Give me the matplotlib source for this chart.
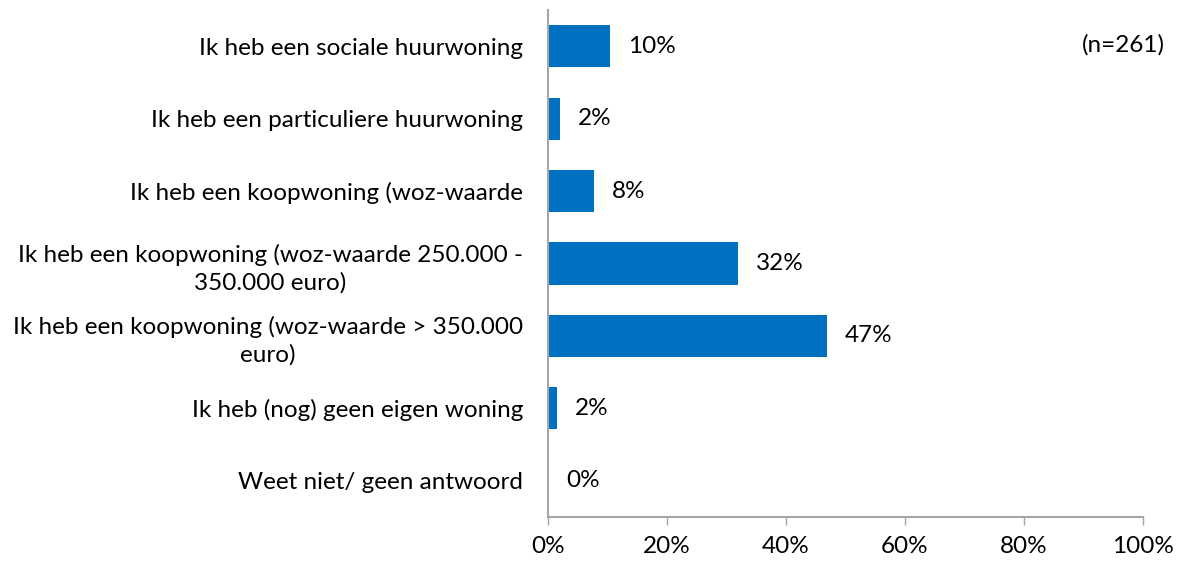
import numpy as np
import matplotlib.pyplot as plt

plt.rcParams['font.family'] = ['Lato', 'DejaVu Sans']

# data
categories = [
    'Ik heb een sociale huurwoning',
    'Ik heb een particuliere huurwoning',
    'Ik heb een koopwoning (woz-waarde',
    'Ik heb een koopwoning (woz-waarde 250.000 -\n350.000 euro)',
    'Ik heb een koopwoning (woz-waarde > 350.000\neuro)',
    'Ik heb (nog) geen eigen woning',
    'Weet niet/ geen antwoord',
]
values = [10.4, 2.0, 7.7, 31.9, 46.9, 1.5, 0.0]
labels = ['10%', '2%', '8%', '32%', '47%', '2%', '0%']
xticks = [0, 20, 40, 60, 80, 100]

FS = 17.5

fig = plt.figure(figsize=(11.81, 5.69), dpi=100)
ax = fig.add_axes([548 / 1181, 52 / 569, 595 / 1181, 507 / 569])

y = np.arange(len(categories))
ax.barh(y, values, height=0.58, color='#0070C0')
for yi, v, lab in zip(y, values, labels):
    ax.text(v + 3.0, yi, lab, va='center', ha='left', fontsize=FS, color='black')

ax.set_xlim(0, 100)
ax.set_ylim(len(categories) - 0.5, -0.5)
ax.set_xticks(xticks)
ax.set_xticklabels([f'{t}%' for t in xticks], fontsize=FS)
ax.set_yticks(y)
ax.set_yticklabels(categories, fontsize=FS, multialignment='center', linespacing=1.35)
ax.tick_params(axis='y', length=0, pad=18)
ax.tick_params(axis='x', length=6, width=1, color='#A6A6A6', direction='out', pad=8)

for s in ['top', 'right']:
    ax.spines[s].set_visible(False)
for s in ['left', 'bottom']:
    ax.spines[s].set_color('#A6A6A6')
    ax.spines[s].set_linewidth(1.5)

fig.text(1165 / 1181, 1 - 45 / 569, '(n=261)', ha='right', va='center', fontsize=FS)

fig.savefig('out.png', dpi=100)
